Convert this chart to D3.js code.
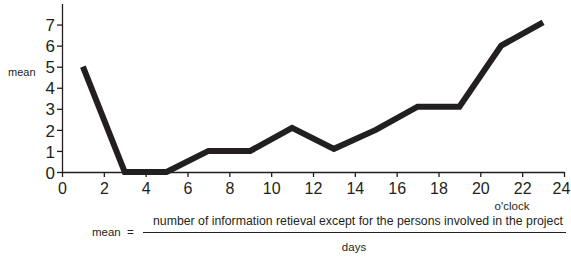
<!DOCTYPE html>
<html>
<head>
<meta charset="utf-8">
<script src="https://cdn.jsdelivr.net/npm/d3@7"></script>
<style>
  body { margin: 0; background: #fff; }
  svg { display: block; font-family: "Liberation Sans", Arial, sans-serif; }
  .axis path, .axis line { stroke: #231f20; stroke-width: 1.3; }
  .axis text { fill: #231f20; }
  .y-axis text { font-size: 17px; }
  .x-axis text { font-size: 16px; }
</style>
</head>
<body>
<svg width="571" height="257"></svg>
<script>
// hours of the day and mean retrievals
const hours = [1, 3, 5, 7, 9, 11, 13, 15, 17, 19, 21, 23];
const means = [5, 0, 0, 1, 1, 2.1, 1.1, 2, 3.1, 3.1, 6, 7.1];
const xTicks = [0, 2, 4, 6, 8, 10, 12, 14, 16, 18, 20, 22, 24];
const yTicks = [0, 1, 2, 3, 4, 5, 6, 7];

const svg = d3.select('svg');

const x = d3.scaleLinear().domain([0, 24]).range([62, 564]);
const y = d3.scaleLinear().domain([0, 8]).range([172, 3.5]);

const xAxis = d3.axisBottom(x)
  .tickValues(xTicks)
  .tickSize(5)
  .tickSizeOuter(0)
  .tickPadding(6);

const yAxis = d3.axisLeft(y)
  .tickValues(yTicks)
  .tickSize(5)
  .tickSizeOuter(0)
  .tickPadding(2);

svg.append('g')
  .attr('class', 'axis x-axis')
  .attr('transform', `translate(0, ${y(0)})`)
  .call(xAxis);

svg.append('g')
  .attr('class', 'axis y-axis')
  .attr('transform', `translate(${x(0)}, 0)`)
  .call(yAxis);

svg.selectAll('.y-axis .tick text').attr('dy', '0.36em');
// last label nudged in so it stays inside the frame
svg.selectAll('.x-axis .tick text')
  .filter(d => d === 24)
  .attr('dx', -3);

const line = d3.line()
  .x((d, i) => x(hours[i]))
  .y(d => y(d));

svg.append('path')
  .datum(means)
  .attr('d', line)
  .attr('fill', 'none')
  .attr('stroke', '#231f20')
  .attr('stroke-width', 6)
  .attr('stroke-linejoin', 'miter');

svg.append('text')
  .attr('x', 8).attr('y', 76)
  .style('font-size', '11px')
  .attr('fill', '#231f20')
  .text('mean');

svg.append('text')
  .attr('x', 512).attr('y', 210)
  .attr('text-anchor', 'middle')
  .style('font-size', '11.5px')
  .attr('fill', '#231f20')
  .text("o'clock");

// formula below the chart
const f = svg.append('g')
  .style('font-size', '11.5px')
  .attr('fill', '#231f20');

f.append('text').attr('x', 92).attr('y', 236).text('mean');
f.append('text').attr('x', 127).attr('y', 236).text('=');
f.append('line')
  .attr('x1', 143).attr('x2', 566)
  .attr('y1', 232.5).attr('y2', 232.5)
  .attr('stroke', '#231f20').attr('stroke-width', 1);
f.append('text')
  .attr('x', 153).attr('y', 225)
  .style('font-size', '12px')
  .attr('textLength', 410)
  .attr('lengthAdjust', 'spacingAndGlyphs')
  .text('number of information retieval except for the persons involved in the project');
f.append('text')
  .attr('x', 354).attr('y', 251)
  .attr('text-anchor', 'middle')
  .text('days');
</script>
</body>
</html>
